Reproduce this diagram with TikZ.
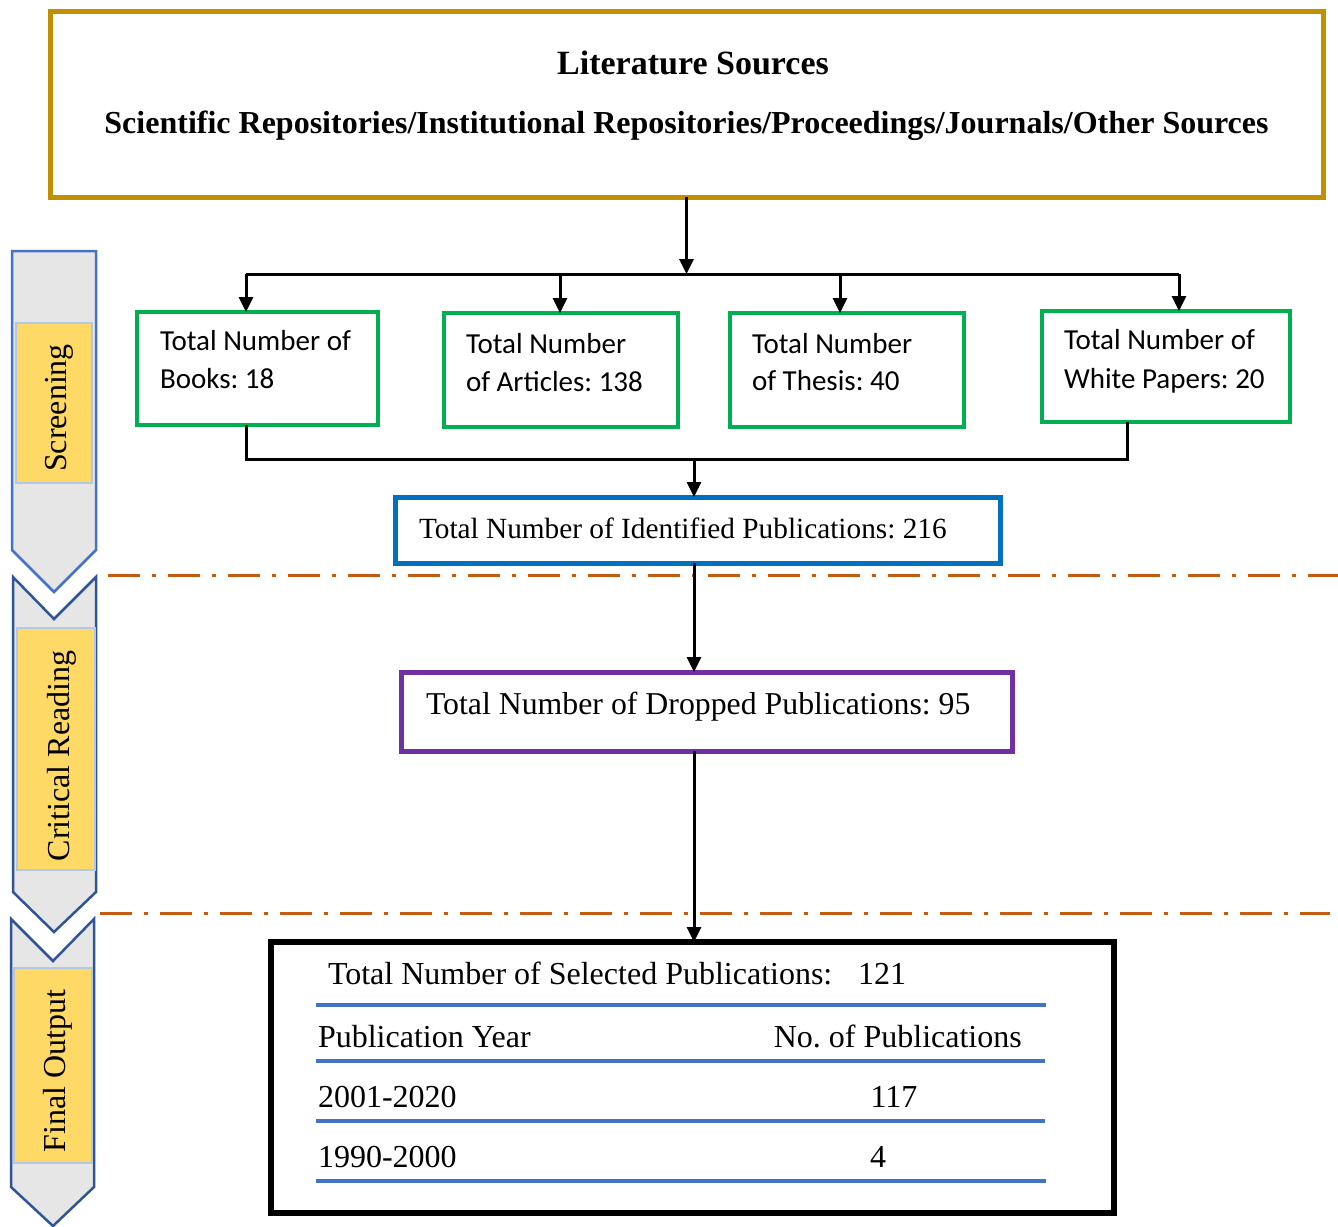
\documentclass[tikz,border=0pt]{standalone}
\usepackage{fontspec}
\setmainfont{Liberation Serif}
\newfontfamily\calibri{Carlito}
\usetikzlibrary{arrows.meta}
\frenchspacing

\definecolor{srcgold}{HTML}{BF9000}
\definecolor{boxgreen}{HTML}{00B050}
\definecolor{boxblue}{HTML}{0070C0}
\definecolor{boxpurple}{HTML}{7030A0}
\definecolor{sepor}{HTML}{C55A11}
\definecolor{ruleblue}{HTML}{4472C4}
\definecolor{phaselight}{HTML}{4472C4}
\definecolor{phasedark}{HTML}{2F5597}
\definecolor{chevgray}{HTML}{E7E6E6}
\definecolor{tagyellow}{HTML}{FFD966}
\definecolor{tagline}{HTML}{B4C7E7}

\tikzset{
  arr/.style={line width=3pt, -{Triangle[length=15pt,width=14pt]}},
  conn/.style={line width=3pt, line join=miter},
  frame/.style={draw, anchor=north west, inner sep=0pt, outer sep=0pt},
  lbl/.style={anchor=base west, inner sep=0pt, outer sep=0pt},
  ctr/.style={anchor=base, inner sep=0pt, outer sep=0pt},
  tnr/.style={font=\fontsize{32}{38}\selectfont},
  cal/.style={font=\calibri\fontsize{29}{35}\selectfont},
  phase/.style={fill=chevgray, line width=2.5pt, line join=miter},
  tag/.style={fill=tagyellow, draw=tagline, line width=1.5pt},
  sep/.style={draw=sepor, line width=3pt, dash pattern=on 32pt off 12pt on 4pt off 12pt},
  rule/.style={draw=ruleblue, line width=3.5pt},
  phasetext/.style={rotate=90, anchor=base, inner sep=0pt, font=\fontsize{32}{38}\selectfont},
}

\begin{document}
\begin{tikzpicture}[x=1pt,y=-1pt]
\path[use as bounding box, fill=white] (0,0) rectangle (1338,1226);

% phase chevrons on the left
\draw[phase, draw=phaselight] (12,251) -- (96,251) -- (96,550) -- (54,592) -- (12,550) -- cycle;
\draw[phase, draw=phasedark] (13,577) -- (54,619) -- (96,577) -- (96,892) -- (54,932) -- (13,892) -- cycle;
\draw[phase, draw=phasedark] (11,919) -- (53,961) -- (94,919) -- (94,1187) -- (53,1226) -- (11,1187) -- cycle;
\draw[tag] (16,323) rectangle (92,483);
\draw[tag] (17,628) rectangle (95,870);
\draw[tag] (14,968) rectangle (92,1163);
\node[phasetext] (ph1) at (66,408) {Screening};
\node[phasetext] (ph2) at (69,756) {Critical Reading};
\node[phasetext] (ph3) at (65,1071) {Final Output};

% stage separators
\draw[sep] (108,575) -- (1338,575);
\draw[sep] (100,913) -- (1330,913);

% boxes
\node[frame, draw=srcgold, line width=5pt, minimum width=1273pt, minimum height=186pt] (src) at (50,11) {};
\node[frame, draw=boxgreen, line width=4pt, minimum width=241pt, minimum height=113pt] (books) at (137,312) {};
\node[frame, draw=boxgreen, line width=4pt, minimum width=234pt, minimum height=114pt] (articles) at (444,313) {};
\node[frame, draw=boxgreen, line width=4pt, minimum width=234pt, minimum height=114pt] (thesis) at (730,313) {};
\node[frame, draw=boxgreen, line width=4pt, minimum width=248pt, minimum height=111pt] (white) at (1042,311) {};
\node[frame, draw=boxblue, line width=5pt, minimum width=605pt, minimum height=66pt] (ident) at (395,497) {};
\node[frame, draw=boxpurple, line width=5pt, minimum width=611pt, minimum height=79pt] (dropped) at (401,672) {};
\node[frame, draw=black, line width=5.5pt, minimum width=843pt, minimum height=271pt] (final) at (271,942) {};

% box texts
\node[ctr, font=\bfseries\fontsize{34}{40}\selectfont] (srcA) at (693,74) {Literature Sources};
\node[ctr, font=\bfseries\fontsize{32}{38}\selectfont] (srcB) at (686.5,133) {Scientific Repositories/Institutional Repositories/Proceedings/Journals/Other Sources};

\node[lbl, cal] (bk1) at (160,350) {Total Number of};
\node[lbl, cal] (bk2) at (160,388) {Books: 18};
\node[lbl, cal] (ar1) at (466,353) {Total Number};
\node[lbl, cal] (ar2) at (466,391) {of Articles: 138};
\node[lbl, cal] (th1) at (752,353) {Total Number};
\node[lbl, cal] (th2) at (752,390) {of Thesis: 40};
\node[lbl, cal] (wp1) at (1064,349) {Total Number of};
\node[lbl, cal] (wp2) at (1064,388) {White Papers: 20};

\node[lbl, font=\fontsize{29.3}{35}\selectfont] (idt) at (419,538) {Total Number of Identified Publications: 216};
\node[lbl, font=\fontsize{31.8}{38}\selectfont] (drt) at (426,714) {Total Number of Dropped Publications: 95};

% selection table
\node[lbl, tnr] (selA) at (328,984) {Total Number of Selected Publications:};
\node[lbl, tnr] (selB) at (858,984) {121};
\draw[rule] (316,1005) -- (1046,1005);
\node[lbl, tnr] (hdA) at (318,1047) {Publication Year};
\node[anchor=base east, inner sep=0pt, tnr] (hdB) at (1022,1047) {No. of Publications};
\draw[rule] (316,1061) -- (1045,1061);
\node[lbl, tnr] (r1A) at (318,1107) {2001-2020};
\node[ctr, tnr] (r1B) at (894,1107) {117};
\draw[rule] (316,1121) -- (1045,1121);
\node[lbl, tnr] (r2A) at (318,1167) {1990-2000};
\node[ctr, tnr] (r2B) at (878,1167) {4};
\draw[rule] (316,1181) -- (1046,1181);

% connectors: sources fan out to the four types
\coordinate (hub) at (686.5,274);
\coordinate (bL) at (246,274);
\coordinate (bA) at (560,274);
\coordinate (bT) at (840,274);
\coordinate (bR) at (1179,274);
\draw[arr] (src.south) -- (hub);
\draw[conn] (bL) -- (bR);
\draw[arr] (bL) -- (bL |- books.north);
\draw[arr] (bA) -- (bA |- articles.north);
\draw[arr] (bT) -- (bT |- thesis.north);
\draw[arr] (bR) -- (bR |- white.north);

% connectors: merge into identified, then down the chain
\coordinate (mL) at (246,459);
\coordinate (mR) at (1127,459);
\coordinate (mC) at (694,459);
\draw[conn] (mL |- books.south) -- (mL) -- (mR) -- (mR |- white.south);
\draw[arr] (mC) -- (mC |- ident.north);
\draw[arr] (ident.south -| mC) -- (dropped.north -| mC);
\draw[arr] (dropped.south -| mC) -- (final.north -| mC);
\end{tikzpicture}
\end{document}
